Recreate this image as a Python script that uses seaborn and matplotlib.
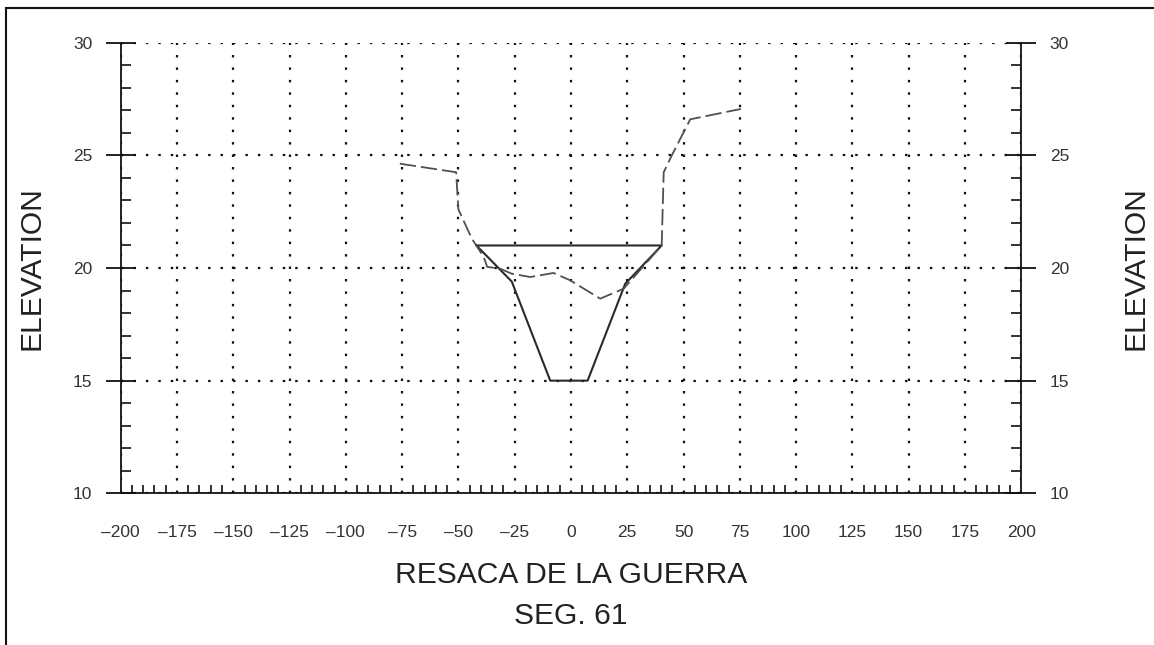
import matplotlib
matplotlib.use("Agg")
import matplotlib.pyplot as plt
from matplotlib.patches import Rectangle
from matplotlib.ticker import MultipleLocator
import seaborn as sns
import pandas as pd

# Design channel section (closed outline: bottom trapezoid plus top width)
design_station = [-42.0, -26.3, -9.2, 7.4, 24.1, 40.3, -42.0]
design_elev = [21.0, 19.4, 15.0, 15.0, 19.3, 21.0, 21.0]

# Existing ground profile
ground_station = [-76.0, -51.0, -50.0, -44.0, -38.8, -37.2, -31.4, -26.4,
                  -18.1, -7.7, -0.3, 13.0, 23.4, 40.3, 41.2, 44.8, 53.0, 75.5]
ground_elev = [24.63, 24.25, 22.6, 21.3, 20.5, 20.05, 19.97, 19.75,
               19.6, 19.78, 19.45, 18.64, 19.08, 21.0, 24.25, 25.0, 26.6, 27.06]

x_ticks = list(range(-200, 201, 25))
y_ticks = [10, 15, 20, 25, 30]
x_title = "RESACA DE LA GUERRA"
sub_title = "SEG. 61"
y_title = "ELEVATION"

sns.set_style("white")
plt.rcParams["font.family"] = ["Liberation Sans", "DejaVu Sans"]

W, H = 1154, 645
fig = plt.figure(figsize=(W / 100, H / 100), dpi=100)
ax = fig.add_axes([120.7 / W, 1 - 493.3 / H, (1021.2 - 120.7) / W, (493.3 - 42.7) / H])

design = pd.DataFrame({"station": design_station, "elev": design_elev})
ground = pd.DataFrame({"station": ground_station, "elev": ground_elev})

sns.lineplot(data=design, x="station", y="elev", sort=False, estimator=None,
             color="#2a2a2a", linewidth=1.5, ax=ax)
sns.lineplot(data=ground, x="station", y="elev", sort=False, estimator=None,
             color="#505050", linewidth=1.3, dashes=False, ax=ax)
ax.lines[-1].set_dashes((9, 2.8))

ax.set_xlim(-200, 200)
ax.set_ylim(10, 30)
ax.set_xticks(x_ticks)
ax.set_yticks(y_ticks)
ax.set_xticklabels([str(v).replace("-", "\u2013") for v in x_ticks])
ax.xaxis.set_minor_locator(MultipleLocator(5))
ax.yaxis.set_minor_locator(MultipleLocator(1))
ax.set_xlabel("")
ax.set_ylabel("")

# Dotted grid at the major ticks
ax.grid(True, which="major", color="#111111", linewidth=1.6,
        linestyle=(0, (1.1, 4.5)))

for side in ["left", "right", "bottom"]:
    ax.spines[side].set_visible(True)
    ax.spines[side].set_color("#111111")
    ax.spines[side].set_linewidth(1.3)
ax.spines["top"].set_visible(False)

ax.tick_params(axis="both", which="major", direction="inout", length=21,
               width=1.3, color="#111111", labelsize=12.5, labelcolor="#333333")
ax.tick_params(axis="x", which="major", pad=12)
ax.tick_params(axis="y", which="major", pad=10, left=True, right=True,
               labelleft=True, labelright=True)
ax.tick_params(axis="x", which="minor", direction="in", length=6, width=1.2,
               color="#111111", bottom=True, top=False)
ax.tick_params(axis="y", which="minor", direction="in", length=7, width=1.2,
               color="#111111", left=True, right=True)

# Axis titles
fig.text(32 / W, 1 - 268 / H, y_title, rotation=90, ha="center", va="center",
         fontsize=21.6, color="#222222")
fig.text(1136 / W, 1 - 268 / H, y_title, rotation=90, ha="center", va="center",
         fontsize=21.6, color="#222222")
fig.text(570.7 / W, 1 - 583.3 / H, x_title, ha="center", va="baseline",
         fontsize=21.6, color="#222222")
fig.text(570.7 / W, 1 - 623.5 / H, sub_title, ha="center", va="baseline",
         fontsize=21.6, color="#222222")

# Sheet border
fig.patches.append(Rectangle((5.8 / W, -0.05), 1.1, 1 - 7.5 / H + 0.05,
                             transform=fig.transFigure, fill=False,
                             edgecolor="#111111", linewidth=1.5, clip_on=False))

fig.savefig("out.png", dpi=100, facecolor="white")
